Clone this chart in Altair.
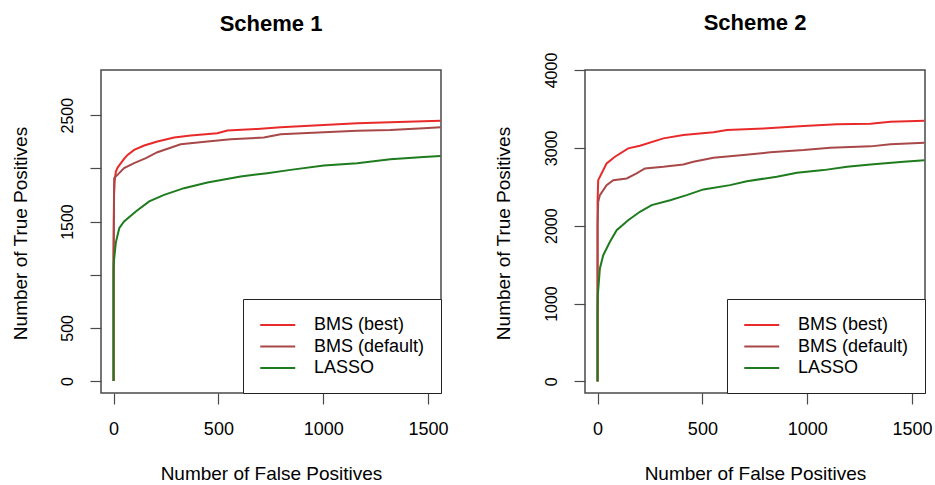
import altair as alt
import pandas as pd

series_names = ["BMS (best)", "BMS (default)", "LASSO"]
series_colors = ["#e82a2a", "#a84848", "#1e7b1e"]

# Scheme 1
s1_best_x = [0, 0, 2, 5, 11, 20, 35, 50, 67, 98, 146, 209, 289, 368, 495, 543, 686, 797, 1003, 1162, 1320, 1479, 1560]
s1_best_y = [0, 1200, 1750, 1880, 1971, 2010, 2049, 2090, 2127, 2174, 2215, 2253, 2290, 2309, 2331, 2356, 2371, 2387, 2409, 2425, 2434, 2444, 2447]
s1_def_x = [0, 0, 3, 10, 19, 50, 98, 154, 209, 320, 448, 558, 717, 797, 1003, 1162, 1320, 1479, 1560]
s1_def_y = [0, 1150, 1908, 1925, 1939, 2002, 2049, 2096, 2152, 2227, 2253, 2274, 2290, 2321, 2340, 2353, 2362, 2378, 2387]
s1_las_x = [0, 0, 1, 11, 27, 50, 106, 170, 241, 336, 448, 606, 733, 844, 1003, 1162, 1320, 1479, 1560]
s1_las_y = [0, 1000, 1117, 1305, 1438, 1501, 1595, 1689, 1751, 1814, 1867, 1924, 1955, 1986, 2027, 2049, 2086, 2108, 2117]

# Scheme 2
s2_best_x = [0, 0, 3, 19, 43, 83, 146, 202, 314, 409, 553, 617, 792, 983, 1142, 1302, 1397, 1560]
s2_best_y = [0, 2300, 2585, 2671, 2800, 2886, 2993, 3028, 3122, 3164, 3199, 3228, 3250, 3280, 3302, 3311, 3336, 3349]
s2_def_x = [0, 0, 3, 11, 43, 75, 139, 186, 226, 314, 409, 457, 553, 696, 823, 983, 1110, 1302, 1397, 1560]
s2_def_y = [0, 2000, 2307, 2393, 2521, 2585, 2607, 2671, 2736, 2757, 2787, 2822, 2873, 2907, 2942, 2971, 3002, 3019, 3045, 3066]
s2_las_x = [0, 0, 1, 11, 27, 59, 91, 146, 202, 258, 346, 425, 505, 632, 712, 855, 951, 1078, 1190, 1302, 1460, 1560]
s2_las_y = [0, 900, 1106, 1450, 1621, 1793, 1942, 2071, 2179, 2264, 2328, 2393, 2466, 2521, 2572, 2629, 2680, 2714, 2757, 2787, 2822, 2842]

x_ticks = [0, 500, 1000, 1500]
y1_ticks = [0, 500, 1000, 1500, 2000, 2500]
y2_ticks = [0, 1000, 2000, 3000, 4000]

FONT = "Liberation Sans"


def make_df(groups):
    rows = []
    for name, xs, ys in groups:
        for i, (a, b) in enumerate(zip(xs, ys)):
            rows.append({"series": name, "fp": a, "tp": b, "i": i})
    return pd.DataFrame(rows)


df1 = make_df([(series_names[0], s1_best_x, s1_best_y),
               (series_names[1], s1_def_x, s1_def_y),
               (series_names[2], s1_las_x, s1_las_y)])
df2 = make_df([(series_names[0], s2_best_x, s2_best_y),
               (series_names[1], s2_def_x, s2_def_y),
               (series_names[2], s2_las_x, s2_las_y)])


def panel(df, title, ydomain, yticks, label_expr, title_offset, title_x):
    return alt.Chart(df).mark_line(strokeWidth=2, clip=True).encode(
        x=alt.X("fp:Q",
                scale=alt.Scale(domain=[-60, 1562], nice=False, zero=False),
                axis=alt.Axis(values=x_ticks, title="Number of False Positives",
                              format="d",
                              labelFontSize=18, labelPadding=16, labelFlush=False,
                              labelOverlap=False,
                              titleFontSize=19, titleY=86, titleBaseline="alphabetic")),
        y=alt.Y("tp:Q",
                scale=alt.Scale(domain=ydomain, nice=False, zero=False),
                axis=alt.Axis(values=yticks, title="Number of True Positives",
                              format="d", labelExpr=label_expr,
                              labelAngle=270, labelAlign="center", labelBaseline="bottom",
                              labelFontSize=16, labelPadding=15, labelFlush=False,
                              labelOverlap=False,
                              titleFontSize=19, titleAngle=270, titleAlign="center",
                              titleBaseline="middle", titleX=title_x, titleY=163)),
        color=alt.Color("series:N",
                        scale=alt.Scale(domain=series_names, range=series_colors),
                        legend=alt.Legend(title=None, orient="bottom-right", offset=0,
                                          padding=16, strokeColor="#222222",
                                          fillColor="white", symbolType="M-1,0H3",
                                          symbolSize=306, symbolStrokeWidth=2,
                                          labelFontSize=18, labelFont=FONT,
                                          labelOffset=35, rowPadding=2.5,
                                          labelLimit=300, cornerRadius=0)),
        order=alt.Order("i:Q"),
    ).properties(
        width=340, height=323,
        title=alt.TitleParams(title, fontSize=22, fontWeight="bold", font=FONT,
                              anchor="middle", baseline="alphabetic",
                              offset=title_offset),
    )


p1 = panel(df1, "Scheme 1", [-112, 2925], y1_ticks,
           "datum.value == 1000 || datum.value == 2000 ? '' : datum.label", 17, -81)
p2 = panel(df2, "Scheme 2", [-149, 4000], y2_ticks, "datum.label", 0, -82)

chart = alt.hconcat(p1, p2, spacing=44).resolve_scale(color="independent").resolve_legend(
    color="independent"
).properties(
    padding={"left": 10, "top": 11, "right": 0, "bottom": 0},
    background="white",
).configure_view(
    stroke="#4a4a4a", strokeWidth=1.5
).configure_axis(
    domain=False, grid=False, tickColor="#4a4a4a", tickSize=11, tickWidth=1.2,
    labelFont=FONT, titleFont=FONT, labelColor="#000000", titleColor="#000000",
    titleFontWeight="normal"
)

chart.save("out.html", embed_options={"renderer": "svg", "actions": False})
